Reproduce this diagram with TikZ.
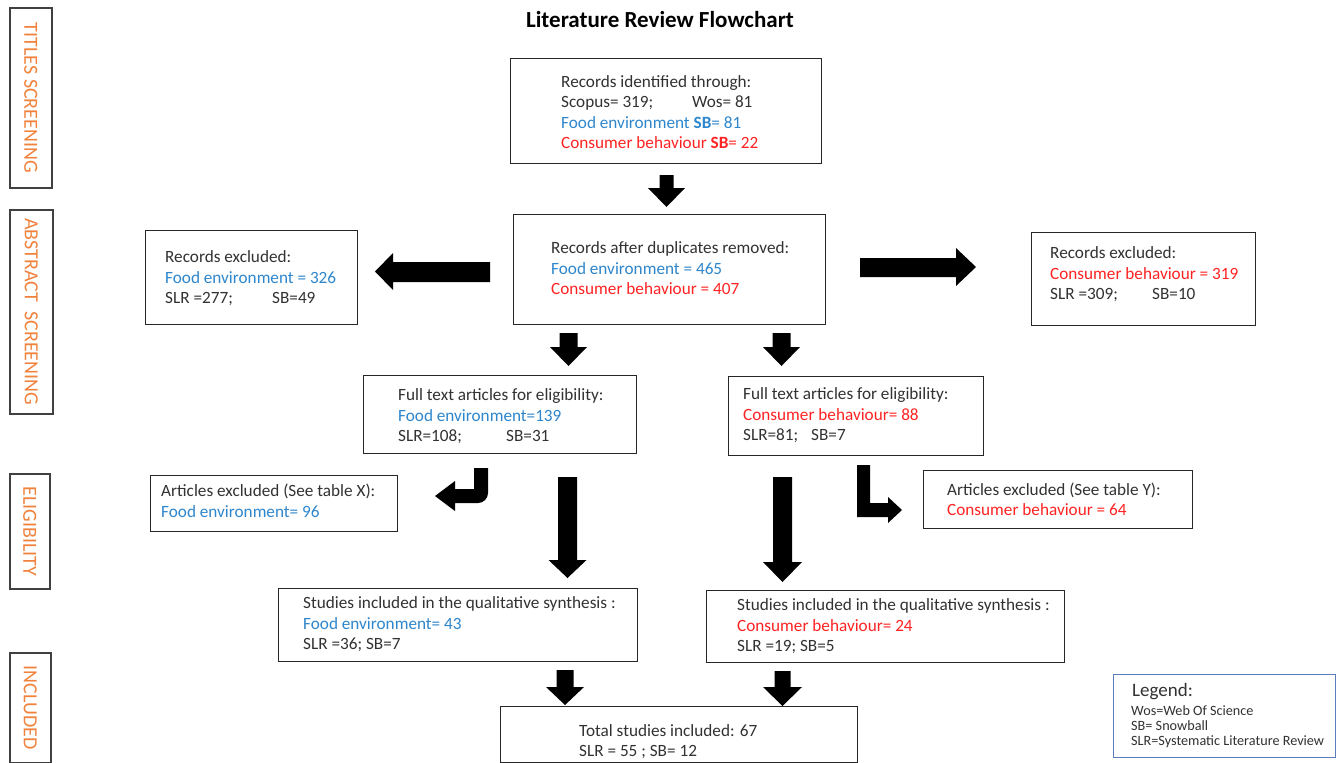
\documentclass[tikz,border=0pt]{standalone}
\usepackage{fontspec}
\setmainfont{Carlito}
\definecolor{fblue}{RGB}{46,134,204}
\definecolor{cred}{RGB}{255,35,35}
\definecolor{txt}{RGB}{50,50,50}
\definecolor{lorange}{RGB}{240,130,60}
\definecolor{lgblue}{RGB}{90,125,190}
\newcommand\blkdown[6]{% cx, top, headstart, tip, shafthalf, headhalf
  \fill[black] ({#1-#5},#2) -- ({#1+#5},#2) -- ({#1+#5},#3) -- ({#1+#6},#3) -- (#1,#4) -- ({#1-#6},#3) -- ({#1-#5},#3) -- cycle;}
\tikzset{
  box/.style={draw=black!85, line width=1.4pt, fill=white, inner sep=0pt, anchor=north west},
  sidebox/.style={draw=black!75, line width=1.6pt, inner sep=0pt, anchor=north west},
  txtnode/.style={anchor=west, inner sep=0pt, align=left, text=txt, font=\fontsize{17.2}{20.5}\selectfont},
  sidelabel/.style={rotate=-90, inner sep=0pt, text=lorange, font=\fontsize{20}{22}\selectfont},
}
\begin{document}
\begin{tikzpicture}[x=1pt,y=-1pt]
\fill[white] (0,0) rectangle (1339,763);
\useasboundingbox (0,0) rectangle (1339,763);

% title
\node[font=\bfseries\fontsize{23}{27}\selectfont, inner sep=0pt] (title) at (660,20) {Literature Review Flowchart};

% side boxes
\node[sidebox, minimum width=42pt, minimum height=180pt] (s1) at (9,7) {};
\node[sidelabel] (s1t) at (s1.center) {TITLES SCREENING};
\node[sidebox, minimum width=43pt, minimum height=204pt] (s2) at (9,209) {};
\node[sidelabel] (s2t) at (s2.center) {ABSTRACT\ \ SCREENING};
\node[sidebox, minimum width=40pt, minimum height=115pt] (s3) at (9,473) {};
\node[sidelabel] (s3t) at (s3.center) {ELIGIBILITY};
\node[sidebox, minimum width=41pt, minimum height=110pt] (s4) at (9,652) {};
\node[sidelabel] (s4t) at (s4.center) {INCLUDED};

% boxes
\node[box, minimum width=311pt, minimum height=105pt] (top) at (510,58) {};
\node[box, minimum width=312pt, minimum height=110pt] (mid) at (513,214) {};
\node[box, minimum width=212pt, minimum height=94pt] (exl) at (145,230) {};
\node[box, minimum width=224pt, minimum height=93pt] (exr) at (1031,232) {};
\node[box, minimum width=273pt, minimum height=78pt] (fl) at (363,375) {};
\node[box, minimum width=255pt, minimum height=79pt] (fr) at (728,376) {};
\node[box, minimum width=247pt, minimum height=56pt] (el) at (150,475) {};
\node[box, minimum width=269pt, minimum height=58pt] (er) at (923,470) {};
\node[box, minimum width=359pt, minimum height=73pt] (sl) at (278,588) {};
\node[box, minimum width=358pt, minimum height=72pt] (sr) at (706,590) {};
\node[box, minimum width=357pt, minimum height=56pt] (tot) at (500,706) {};
\node[box, draw=lgblue, line width=1.2pt, minimum width=222pt, minimum height=83pt] (leg) at (1113,674) {};

% texts
\node[txtnode] (topt) at (561,114) {\strut Records identified through:\\
\strut\makebox[131pt][l]{Scopus= 319;}Wos= 81\\
\strut\textcolor{fblue}{Food environment {\bfseries SB}= 81}\\
\strut\textcolor{cred}{Consumer behaviour {\bfseries SB}= 22}};
\node[txtnode] (midt) at (551,270) {\strut Records after duplicates removed:\\
\strut\textcolor{fblue}{Food environment = 465}\\
\strut\textcolor{cred}{Consumer behaviour = 407}};
\node[txtnode] (exlt) at (165,279) {\strut Records excluded:\\
\strut\textcolor{fblue}{Food environment = 326}\\
\strut\makebox[107pt][l]{SLR =277;}SB=49};
\node[txtnode] (exrt) at (1050,275) {\strut Records excluded:\\
\strut\textcolor{cred}{Consumer behaviour = 319}\\
\strut\makebox[102pt][l]{SLR =309;}SB=10};
\node[txtnode] (flt) at (398,417) {\strut Full text articles for eligibility:\\
\strut\textcolor{fblue}{Food environment=139}\\
\strut\makebox[108pt][l]{SLR=108;}SB=31};
\node[txtnode] (frt) at (743,416) {\strut Full text articles for eligibility:\\
\strut\textcolor{cred}{Consumer behaviour= 88}\\
\strut\makebox[68pt][l]{SLR=81;}SB=7};
\node[txtnode] (elt) at (161,503) {\strut Articles excluded (See table X):\\
\strut\textcolor{fblue}{Food environment= 96}};
\node[txtnode] (ert) at (947,501.5) {\strut Articles excluded (See table Y):\\
\strut\textcolor{cred}{Consumer behaviour = 64}};
\node[txtnode] (slt) at (303,625) {\strut Studies included in the qualitative synthesis :\\
\strut\textcolor{fblue}{Food environment= 43}\\
\strut SLR =36; SB=7};
\node[txtnode] (srt) at (737,627) {\strut Studies included in the qualitative synthesis :\\
\strut\textcolor{cred}{Consumer behaviour= 24}\\
\strut SLR =19; SB=5};
\node[txtnode] (tott) at (579,742.5) {\strut Total studies included: 67\\
\strut SLR = 55 ; SB= 12};
\node[anchor=west, inner sep=0pt, text=txt, font=\fontsize{19}{21}\selectfont] (legt) at (1132,692) {Legend:};
\node[txtnode, font=\fontsize{14.2}{15}\selectfont] (legl) at (1131,727) {\strut Wos=Web Of Science\\
\strut SB= Snowball\\
\strut SLR=Systematic Literature Review};

% block arrows
\blkdown{666.5}{175}{188}{207}{7}{18.5}
\blkdown{568.5}{333}{347}{366}{9}{18.5}
\blkdown{781.5}{333}{347}{366}{9}{18.5}
\blkdown{567.5}{477}{560}{578}{9.5}{19}
\blkdown{782.5}{477}{562}{582}{9.5}{19.5}
\blkdown{565}{670}{687}{705}{8.5}{19}
\blkdown{782.5}{671}{687}{706}{8}{19.5}
% horizontal arrows
\fill[black] (490,262) -- (393,262) -- (393,253) -- (375,271.5) -- (393,290) -- (393,282) -- (490,282) -- cycle;
\fill[black] (860,258) -- (956,258) -- (956,248) -- (976,267) -- (956,286) -- (956,277) -- (860,277) -- cycle;
% bent arrows
\fill[black] (474,468) -- (488,468) [rounded corners=10pt] -- (488,503) [sharp corners] -- (455,503) -- (455,511) -- (435,496) -- (455,481) -- (455,489) -- (474,489) -- cycle;
\fill[black] (857,465) -- (870,465) -- (870,503) -- (888,503) -- (888,497) -- (902,510) -- (888,523) -- (888,517) -- (857,517) -- cycle;
\end{tikzpicture}
\end{document}
